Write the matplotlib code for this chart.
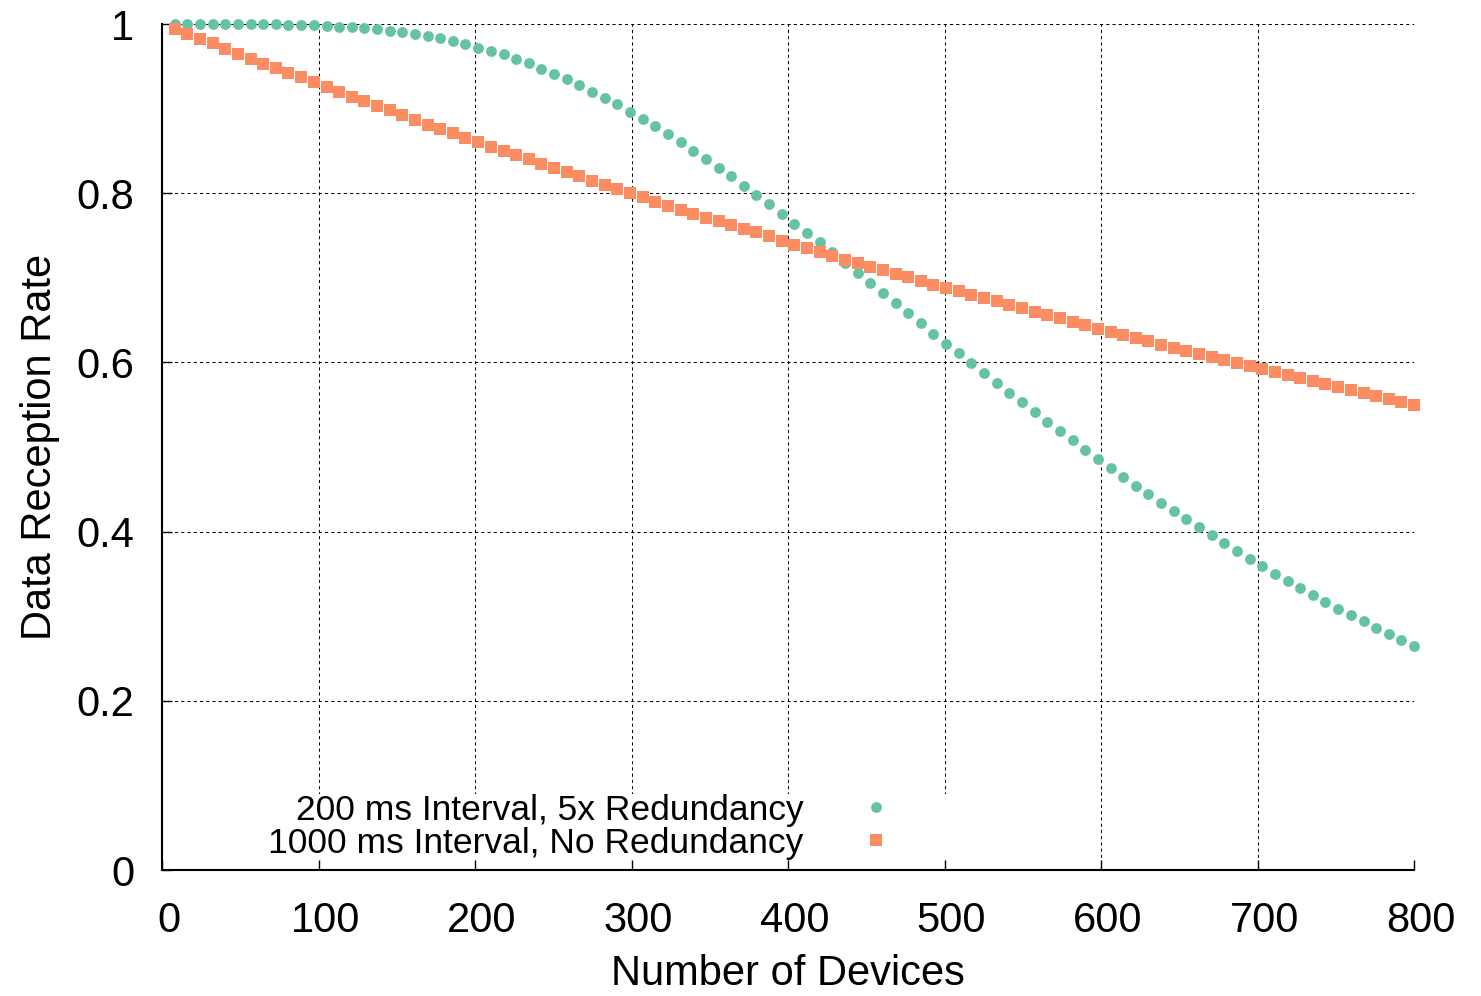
import numpy as np
import matplotlib
matplotlib.use('Agg')
import matplotlib.pyplot as plt
from matplotlib.transforms import ScaledTranslation

plt.rcParams['font.family'] = ['Liberation Sans', 'DejaVu Sans']

# number of devices in the simulation
devices = [8.1, 16.2, 24.2, 32.3, 40.4, 48.5, 56.6, 64.6, 72.7, 80.8,
           88.9, 97.0, 105.1, 113.1, 121.2, 129.3, 137.4, 145.5, 153.5, 161.6,
           169.7, 177.8, 185.9, 193.9, 202.0, 210.1, 218.2, 226.3, 234.3, 242.4,
           250.5, 258.6, 266.7, 274.7, 282.8, 290.9, 299.0, 307.1, 315.2, 323.2,
           331.3, 339.4, 347.5, 355.6, 363.6, 371.7, 379.8, 387.9, 396.0, 404.0,
           412.1, 420.2, 428.3, 436.4, 444.4, 452.5, 460.6, 468.7, 476.8, 484.8,
           492.9, 501.0, 509.1, 517.2, 525.3, 533.3, 541.4, 549.5, 557.6, 565.7,
           573.7, 581.8, 589.9, 598.0, 606.1, 614.1, 622.2, 630.3, 638.4, 646.5,
           654.5, 662.6, 670.7, 678.8, 686.9, 695.0, 703.0, 711.1, 719.2, 727.3,
           735.4, 743.4, 751.5, 759.6, 767.7, 775.8, 783.8, 791.9, 800.0]

# 200 ms interval, every packet sent 5 times
redundant_5x = [1.000, 1.000, 1.000, 1.000, 1.000, 1.000, 1.000, 0.9998, 0.9996, 0.9993,
                0.9990, 0.9986, 0.998, 0.997, 0.996, 0.995, 0.994, 0.992, 0.990, 0.988,
                0.986, 0.983, 0.980, 0.976, 0.972, 0.968, 0.964, 0.959, 0.954, 0.947,
                0.941, 0.935, 0.928, 0.920, 0.913, 0.905, 0.896, 0.888, 0.879, 0.870,
                0.860, 0.850, 0.840, 0.830, 0.820, 0.809, 0.798, 0.787, 0.775, 0.764,
                0.753, 0.742, 0.730, 0.718, 0.706, 0.694, 0.682, 0.670, 0.658, 0.646,
                0.634, 0.622, 0.611, 0.599, 0.587, 0.576, 0.564, 0.553, 0.541, 0.530,
                0.519, 0.508, 0.497, 0.486, 0.475, 0.465, 0.454, 0.444, 0.434, 0.424,
                0.415, 0.405, 0.396, 0.386, 0.377, 0.368, 0.359, 0.350, 0.342, 0.333,
                0.325, 0.317, 0.309, 0.301, 0.294, 0.286, 0.279, 0.272, 0.265]

# 1000 ms interval, single transmission
no_redundancy = [0.994, 0.988, 0.982, 0.977, 0.971, 0.965, 0.959, 0.953, 0.948, 0.942,
                 0.937, 0.931, 0.925, 0.920, 0.914, 0.909, 0.903, 0.898, 0.892, 0.887,
                 0.881, 0.876, 0.871, 0.865, 0.860, 0.855, 0.850, 0.845, 0.840, 0.835,
                 0.830, 0.825, 0.820, 0.815, 0.810, 0.805, 0.800, 0.795, 0.790, 0.785,
                 0.780, 0.776, 0.771, 0.767, 0.763, 0.758, 0.754, 0.749, 0.744, 0.739,
                 0.735, 0.731, 0.726, 0.721, 0.717, 0.713, 0.709, 0.705, 0.701, 0.696,
                 0.692, 0.688, 0.684, 0.680, 0.676, 0.672, 0.668, 0.664, 0.660, 0.656,
                 0.652, 0.648, 0.644, 0.640, 0.636, 0.632, 0.629, 0.625, 0.621, 0.617,
                 0.613, 0.610, 0.606, 0.603, 0.599, 0.596, 0.592, 0.589, 0.585, 0.582,
                 0.578, 0.574, 0.571, 0.567, 0.564, 0.560, 0.557, 0.553, 0.550]

xticks = [0, 100, 200, 300, 400, 500, 600, 700, 800]
yticks = [0, 0.2, 0.4, 0.6, 0.8, 1]
ytick_labels = ['0', '0.2', '0.4', '0.6', '0.8', '1']

fig = plt.figure(figsize=(14.81, 9.96), dpi=100)
ax = fig.add_axes([0.1094, 0.1265, 0.8454, 0.8494])

ax.plot(devices, redundant_5x, 'o', color='#66c2a5', ms=7.8, mew=0, clip_on=False,
        label='200 ms Interval, 5x Redundancy')
ax.plot(devices, no_redundancy, 's', color='#fc8d62', ms=8.7, mew=0, clip_on=False,
        label='1000 ms Interval, No Redundancy')

ax.set_xlim(0, 800)
ax.set_ylim(0, 1)
ax.set_xticks(xticks)
ax.set_yticks(yticks)
ax.set_yticklabels(ytick_labels)

ax.grid(True, color='black', lw=0.75, ls=(0, (3, 3)))
for s in ['top', 'right']:
    ax.spines[s].set_visible(False)
for s in ['left', 'bottom']:
    ax.spines[s].set_linewidth(1.5)

ax.tick_params(direction='in', length=7, width=1, labelsize=30)
ax.tick_params(axis='x', pad=22)
ax.tick_params(axis='y', pad=20)
offset = ScaledTranslation(5 / 72, 0, fig.dpi_scale_trans)
for lbl in ax.get_xticklabels():
    lbl.set_transform(lbl.get_transform() + offset)

ax.set_xlabel('Number of Devices', fontsize=30, labelpad=10)
ax.set_ylabel('Data Reception Rate', fontsize=30, labelpad=12)

ax.legend(loc='lower right', bbox_to_anchor=(0.627, 0.012), markerfirst=False,
          fontsize=25.5, numpoints=1, frameon=True, facecolor='white', edgecolor='none',
          framealpha=1, fancybox=False, handlelength=4, handletextpad=0.06,
          borderpad=0, labelspacing=0.0, borderaxespad=0)

fig.savefig('out.png', dpi=100)
